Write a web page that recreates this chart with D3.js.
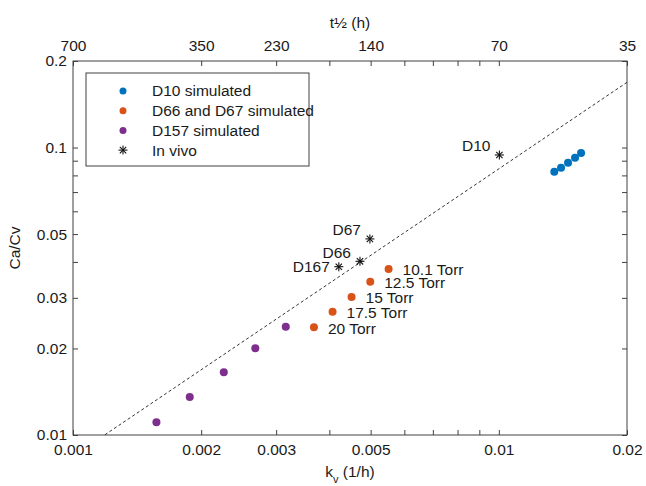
<!DOCTYPE html>
<html>
<head>
<meta charset="utf-8">
<script src="https://cdn.jsdelivr.net/npm/d3@7"></script>
<style>
  body { margin: 0; background: #fff; }
  svg text { font-family: "Liberation Sans", Arial, Helvetica, sans-serif; fill: #1a1a1a; }
</style>
</head>
<body>
<div id="chart"></div>
<script>
// D10 simulated
const d10K = [0.0135, 0.0140, 0.01454, 0.0151, 0.0156];
const d10Ratio = [0.0824, 0.0851, 0.0886, 0.0922, 0.0957];

// D66 and D67 simulated, one per pressure
const d66K = [0.00551, 0.00499, 0.00451, 0.00407, 0.00368];
const d66Ratio = [0.0378, 0.0341, 0.0302, 0.02685, 0.0237];
const pressures = ["10.1 Torr", "12.5 Torr", "15 Torr", "17.5 Torr", "20 Torr"];

// D157 simulated
const d157K = [0.00157, 0.00188, 0.00226, 0.00268, 0.00316];
const d157Ratio = [0.01107, 0.01356, 0.01653, 0.02003, 0.0238];

// in vivo
const vivoNames = ["D10", "D67", "D66", "D167"];
const vivoK = [0.01003, 0.00498, 0.00472, 0.00421];
const vivoRatio = [0.0942, 0.0481, 0.0402, 0.0385];

// dashed reference line Ca/Cv = slope * k
const fitSlope = 8.43;
const fitK = [0.001, 0.02];

// axis ticks
const xMajor = [0.001, 0.002, 0.003, 0.005, 0.01, 0.02];
const xMinor = [0.004, 0.006, 0.007, 0.008, 0.009];
const halfLifeLabels = ["700", "350", "230", "140", "70", "35"];
const yMajor = [0.01, 0.02, 0.03, 0.05, 0.1, 0.2];
const yMinor = [0.04, 0.06, 0.07, 0.08, 0.09];

const colors = { d10: "#0072BD", d66: "#D95319", d157: "#7E2F8E" };

const W = 646, H = 486;
const margin = { top: 61, right: 19, bottom: 51, left: 73 },
  width = W - margin.left - margin.right,
  height = H - margin.top - margin.bottom;

const svg = d3.select("#chart").append("svg")
  .attr("width", W).attr("height", H);

const g = svg.append("g")
  .attr("transform", `translate(${margin.left},${margin.top})`);

const x = d3.scaleLog().domain([0.001, 0.02]).range([0, width]);
const y = d3.scaleLog().domain([0.01, 0.2]).range([height, 0]);

const fontSize = "15.5px";
const tickLen = 5;

// axes - ticks point inward
function styleAxis(sel) {
  sel.select(".domain").remove();
  sel.selectAll("line").attr("stroke", "#404040");
  sel.selectAll("text").style("font-size", fontSize).attr("fill", "#1a1a1a");
}

const fmt = (d) => String(d);

g.append("g").attr("transform", `translate(0,${height})`)
  .call(d3.axisBottom(x).tickValues(xMajor).tickFormat(fmt)
    .tickSizeInner(-tickLen).tickSizeOuter(0).tickPadding(9))
  .call(styleAxis);
g.append("g").attr("transform", `translate(0,${height})`)
  .call(d3.axisBottom(x).tickValues(xMinor).tickFormat("")
    .tickSizeInner(-tickLen).tickSizeOuter(0))
  .call(styleAxis);

g.append("g")
  .call(d3.axisTop(x).tickValues(xMajor).tickFormat((d, i) => halfLifeLabels[i])
    .tickSizeInner(-tickLen).tickSizeOuter(0).tickPadding(10))
  .call(styleAxis);
g.append("g")
  .call(d3.axisTop(x).tickValues(xMinor).tickFormat("")
    .tickSizeInner(-tickLen).tickSizeOuter(0))
  .call(styleAxis);

g.append("g")
  .call(d3.axisLeft(y).tickValues(yMajor).tickFormat(fmt)
    .tickSizeInner(-tickLen).tickSizeOuter(0).tickPadding(6))
  .call(styleAxis);
g.append("g")
  .call(d3.axisLeft(y).tickValues(yMinor).tickFormat("")
    .tickSizeInner(-tickLen).tickSizeOuter(0))
  .call(styleAxis);

g.append("g").attr("transform", `translate(${width},0)`)
  .call(d3.axisRight(y).tickValues(yMajor.concat(yMinor)).tickFormat("")
    .tickSizeInner(-tickLen).tickSizeOuter(0))
  .call(styleAxis);

// plot box
g.append("rect")
  .attr("width", width).attr("height", height)
  .attr("fill", "none").attr("stroke", "#404040").attr("stroke-width", 1);

// axis titles
svg.append("text")
  .attr("x", margin.left + width / 2).attr("y", 28)
  .attr("text-anchor", "middle").style("font-size", fontSize)
  .text("t½ (h)");

const xt = svg.append("text")
  .attr("x", margin.left + width / 2).attr("y", 477)
  .attr("text-anchor", "middle").style("font-size", fontSize);
xt.append("tspan").text("k");
xt.append("tspan").attr("dy", 6).style("font-size", "11px").text("v");
xt.append("tspan").attr("dy", -6).text(" (1/h)");

svg.append("text")
  .attr("transform", `translate(20,${margin.top + height / 2}) rotate(-90)`)
  .attr("text-anchor", "middle").style("font-size", fontSize)
  .text("Ca/Cv");

// clip for the reference line
svg.append("defs").append("clipPath").attr("id", "plot-clip")
  .append("rect").attr("width", width).attr("height", height);

const fitData = fitK.map((k) => ({ k: k, v: fitSlope * k }));
g.append("path")
  .datum(fitData)
  .attr("clip-path", "url(#plot-clip)")
  .attr("fill", "none")
  .attr("stroke", "#333")
  .attr("stroke-width", 1)
  .attr("stroke-dasharray", "3,2.5")
  .attr("d", d3.line().x((d) => x(d.k)).y((d) => y(d.v)));

// simulated dots
function dots(ks, vs, color) {
  g.append("g").selectAll("circle")
    .data(ks.map((k, i) => ({ k: k, v: vs[i] })))
    .join("circle")
    .attr("cx", (d) => x(d.k))
    .attr("cy", (d) => y(d.v))
    .attr("r", 4)
    .attr("fill", color);
}
dots(d10K, d10Ratio, colors.d10);
dots(d66K, d66Ratio, colors.d66);
dots(d157K, d157Ratio, colors.d157);

// pressure labels
g.append("g").selectAll("text")
  .data(pressures)
  .join("text")
  .attr("x", (d, i) => x(d66K[i]) + 14)
  .attr("y", (d, i) => y(d66Ratio[i]) + 1)
  .attr("dy", "0.35em")
  .style("font-size", fontSize)
  .text((d) => d);

// asterisk marker
function asterisk(sel, r) {
  const angles = [0, 45, 90, 135];
  angles.forEach((a) => {
    const rad = (a * Math.PI) / 180;
    sel.append("line")
      .attr("x1", -r * Math.cos(rad)).attr("y1", -r * Math.sin(rad))
      .attr("x2", r * Math.cos(rad)).attr("y2", r * Math.sin(rad))
      .attr("stroke", "#111").attr("stroke-width", 1.1);
  });
}

const vivo = vivoNames.map((n, i) => ({ name: n, k: vivoK[i], v: vivoRatio[i] }));
vivo.forEach((d) => {
  const m = g.append("g").attr("transform", `translate(${x(d.k)},${y(d.v)})`);
  asterisk(m, 4.5);
  const dy = d.name === "D167" ? 0 : -9;
  m.append("text")
    .attr("x", -9).attr("y", dy).attr("dy", "0.35em")
    .attr("text-anchor", "end")
    .style("font-size", fontSize)
    .text(d.name);
});

// legend
const legend = svg.append("g").attr("transform", "translate(86,73)");
legend.append("rect")
  .attr("width", 223).attr("height", 93)
  .attr("fill", "#fff").attr("stroke", "#404040").attr("stroke-width", 1);

const legendItems = [
  { label: "D10 simulated", color: colors.d10 },
  { label: "D66 and D67 simulated", color: colors.d66 },
  { label: "D157 simulated", color: colors.d157 },
  { label: "In vivo", color: null },
];
legendItems.forEach((item, i) => {
  const row = legend.append("g").attr("transform", `translate(37,${18 + i * 19.7})`);
  if (item.color) {
    row.append("circle").attr("r", 3.5).attr("fill", item.color);
  } else {
    asterisk(row, 4.5);
  }
  row.append("text")
    .attr("x", 29).attr("dy", "0.35em")
    .style("font-size", fontSize)
    .text(item.label);
});
</script>
</body>
</html>
